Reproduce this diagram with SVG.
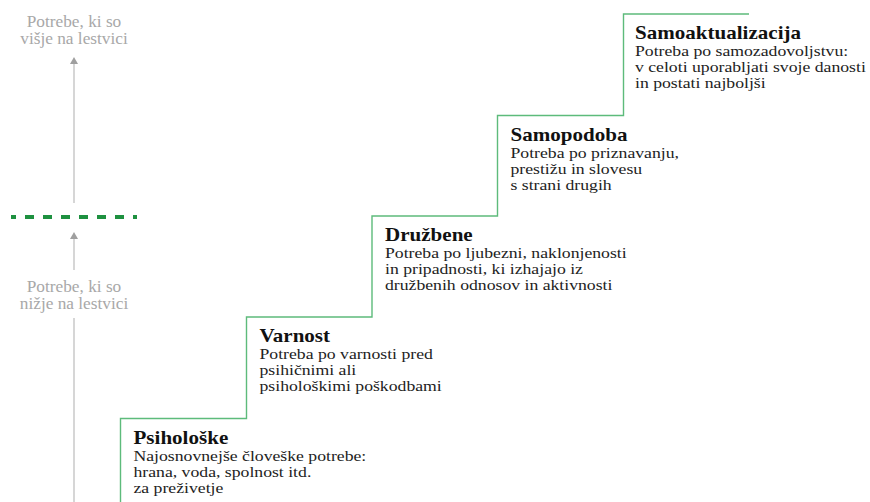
<svg xmlns="http://www.w3.org/2000/svg" width="870" height="502" viewBox="0 0 870 502">
  <defs>
    <style>
      .axis { stroke: #c9c9c9; stroke-width: 1.5; fill: none; }
      .axis-label { font-family: "Liberation Serif", "Times New Roman", serif; font-size: 16px; fill: #a8a8a8; text-anchor: middle; }
      .stairs { stroke: #5dbb7b; stroke-width: 1.4; fill: none; }
      .divider { stroke: #1e9140; stroke-width: 4; stroke-dasharray: 9 9; stroke-dashoffset: 4; }
      .title { font-family: "Liberation Serif", "Times New Roman", serif; font-size: 18px; font-weight: bold; fill: #111; }
      .body { font-family: "Liberation Serif", "Times New Roman", serif; font-size: 15px; fill: #222; }
    </style>
  </defs>
  <rect width="870" height="502" fill="#ffffff"/>

  <!-- Vertical scale on the left -->
  <g id="axis">
    <text class="axis-label" transform="translate(74,27) scale(1.08,1)">Potrebe, ki so</text>
    <text class="axis-label" transform="translate(74,43.5) scale(1.08,1)">višje na lestvici</text>
    <line class="axis" x1="74" y1="203" x2="74" y2="62"/>
    <path d="M74,57 L78,64 L70,64 Z" fill="#9f9f9f"/>
    <line class="divider" x1="11" y1="217" x2="137" y2="217"/>
    <line class="axis" x1="74" y1="270" x2="74" y2="237"/>
    <path d="M74,232 L78,239 L70,239 Z" fill="#9f9f9f"/>
    <text class="axis-label" transform="translate(74,291.5) scale(1.08,1)">Potrebe, ki so</text>
    <text class="axis-label" transform="translate(74,309) scale(1.08,1)">nižje na lestvici</text>
    <line class="axis" x1="74" y1="318" x2="74" y2="502"/>
  </g>

  <!-- Staircase outline -->
  <g id="connectors">
    <path class="stairs" d="M120.5,502 V418.5 H246.5 V317 H372 V216 H497.5 V115.5 H623.5 V14 H749"/>
  </g>

  <g id="psiholoske">
    <text class="title" transform="translate(133.5,443.5) scale(1.17,1)">Psihološke</text>
    <text class="body" transform="translate(133.5,460.5) scale(1.18,1)">Najosnovnejše človeške potrebe:</text>
    <text class="body" transform="translate(133.5,476.5) scale(1.18,1)">hrana, voda, spolnost itd.</text>
    <text class="body" transform="translate(133.5,492.5) scale(1.18,1)">za preživetje</text>
  </g>

  <g id="varnost">
    <text class="title" transform="translate(259.5,342) scale(1.17,1)">Varnost</text>
    <text class="body" transform="translate(259.5,359) scale(1.18,1)">Potreba po varnosti pred</text>
    <text class="body" transform="translate(259.5,375) scale(1.18,1)">psihičnimi ali</text>
    <text class="body" transform="translate(259.5,391) scale(1.18,1)">psihološkimi poškodbami</text>
  </g>

  <g id="druzbene">
    <text class="title" transform="translate(385,241) scale(1.17,1)">Družbene</text>
    <text class="body" transform="translate(385,258) scale(1.18,1)">Potreba po ljubezni, naklonjenosti</text>
    <text class="body" transform="translate(385,274) scale(1.18,1)">in pripadnosti, ki izhajajo iz</text>
    <text class="body" transform="translate(385,290) scale(1.18,1)">družbenih odnosov in aktivnosti</text>
  </g>

  <g id="samopodoba">
    <text class="title" transform="translate(510.5,140.5) scale(1.17,1)">Samopodoba</text>
    <text class="body" transform="translate(510.5,157.5) scale(1.18,1)">Potreba po priznavanju,</text>
    <text class="body" transform="translate(510.5,173.5) scale(1.18,1)">prestižu in slovesu</text>
    <text class="body" transform="translate(510.5,189.5) scale(1.18,1)">s strani drugih</text>
  </g>

  <g id="samoaktualizacija">
    <text class="title" transform="translate(635,39) scale(1.17,1)">Samoaktualizacija</text>
    <text class="body" transform="translate(635,56) scale(1.18,1)">Potreba po samozadovoljstvu:</text>
    <text class="body" transform="translate(635,72) scale(1.18,1)">v celoti uporabljati svoje danosti</text>
    <text class="body" transform="translate(635,88) scale(1.18,1)">in postati najboljši</text>
  </g>
</svg>
